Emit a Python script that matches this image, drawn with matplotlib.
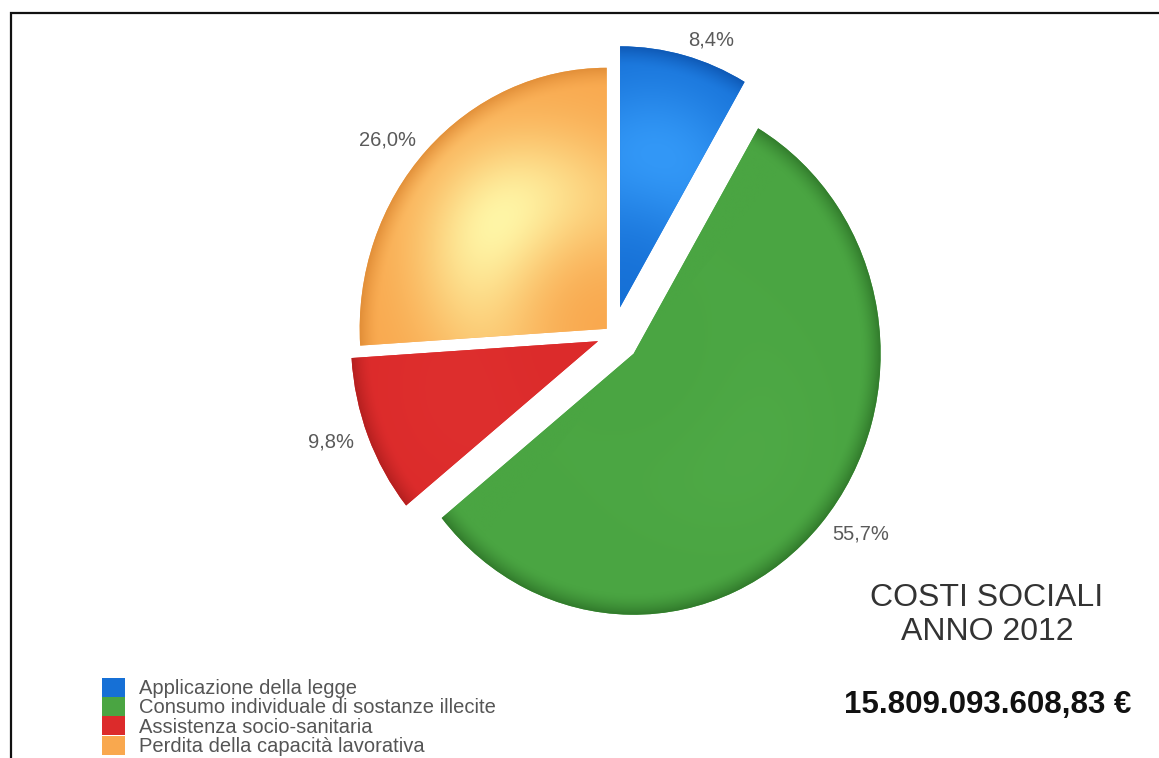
import numpy as np
import matplotlib.pyplot as plt
from matplotlib.patches import Patch, Rectangle
from matplotlib.colors import to_rgb

plt.rcParams['font.family'] = ['Liberation Sans', 'DejaVu Sans']

# costi sociali 2012, quota % per voce
categories = ['Applicazione della legge',
              'Consumo individuale di sostanze illecite',
              'Assistenza socio-sanitaria',
              'Perdita della capacità lavorativa']
shares = [8.4, 55.7, 9.8, 26.0]
total_cost = '15.809.093.608,83 €'
title_lines = ['COSTI SOCIALI', 'ANNO 2012']

# colori: base, riflesso, bordo scuro, intensità del riflesso
base_colors = ['#1670d6', '#4aa542', '#dc2b2b', '#f9a84e']
light_colors = ['#3aa2ff', '#58b24e', '#e43a36', '#fff9aa']
dark_colors = ['#0b4fa8', '#2a6e25', '#a81c1c', '#d98530']
light_amount = [0.8, 0.3, 0.25, 0.95]
explode = [0.11, 0.11, 0.065, 0.035]

pct_labels = [f'{v:.1f}%'.replace('.', ',') for v in shares]

fig = plt.figure(figsize=(11.59, 7.58), dpi=100)
fig.patch.set_facecolor('white')
ax = fig.add_axes([0.2625, 0.1276, 0.5328, 0.8608])

wedges, texts = ax.pie(shares, explode=explode, startangle=90, counterclock=False,
                       colors=base_colors, labels=pct_labels, labeldistance=1.06,
                       wedgeprops=dict(linewidth=0),
                       textprops=dict(fontsize=14.5, color='#5a5a5a'))
ax.set_aspect('auto')
lim = 1.25
ax.set_xlim(-lim, lim)
ax.set_ylim(-lim, lim)

# sfumatura "3D" dentro ogni spicchio
g = np.linspace(-lim, lim, 800)
X, Y = np.meshgrid(g, g)
for w, base, light, dark, amt in zip(wedges, base_colors, light_colors,
                                     dark_colors, light_amount):
    cx, cy = w.center
    mid = np.deg2rad((w.theta1 + w.theta2) / 2)
    dx, dy = X - cx, Y - cy
    r = np.hypot(dx, dy)
    # componenti radiale / tangenziale rispetto alla bisettrice
    along = dx * np.cos(mid) + dy * np.sin(mid)
    across = -dx * np.sin(mid) + dy * np.cos(mid)
    h = amt * np.exp(-(r - 0.6) ** 2 / (2 * 0.2 ** 2)
                     - across ** 2 / (2 * 0.32 ** 2)) * (along > 0)
    h = h[..., None]
    b, l, d = (np.array(to_rgb(c)) for c in (base, light, dark))
    rgb = b * (1 - h) + l * h
    rim = (np.clip((r - 0.92) / 0.08, 0, 1) ** 1.6)[..., None]
    rgb = rgb * (1 - 0.75 * rim) + d * 0.75 * rim
    im = ax.imshow(np.clip(rgb, 0, 1), extent=(-lim, lim, -lim, lim), origin='lower',
                   aspect='auto', zorder=2, interpolation='bilinear')
    im.set_clip_path(w)

handles = [Patch(facecolor=c, edgecolor='none') for c in base_colors]
fig.legend(handles, categories, loc='upper left', bbox_to_anchor=(0.088, 0.106),
           frameon=False, fontsize=14.5, handlelength=1.15, handleheight=1.08,
           handletextpad=0.7, labelspacing=-0.05, borderpad=0, borderaxespad=0,
           labelcolor='#555555')

fig.text(987 / 1159, 1 - 598 / 758, title_lines[0], ha='center', va='center',
         fontsize=23, color='#333333')
fig.text(987 / 1159, 1 - 632 / 758, title_lines[1], ha='center', va='center',
         fontsize=23, color='#333333')
fig.text(987.5 / 1159, 1 - 705 / 758, total_cost, ha='center', va='center',
         fontsize=22.5, weight='bold', color='#111111')

# cornice (solo lati sinistro e superiore visibili)
fig.add_artist(Rectangle((10.5 / 1159, -0.05), 1.1, (758 - 12.5) / 758 + 0.05,
                         transform=fig.transFigure, fill=False, lw=1.6, ec='#111111'))

fig.savefig('out.png', dpi=100, facecolor='white')
